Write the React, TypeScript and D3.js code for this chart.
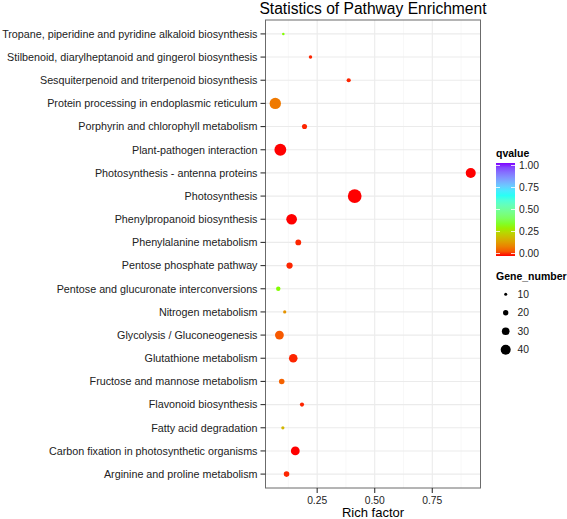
import React from "react";
import * as d3 from "d3";

const pathways = [
  "Tropane, piperidine and pyridine alkaloid biosynthesis",
  "Stilbenoid, diarylheptanoid and gingerol biosynthesis",
  "Sesquiterpenoid and triterpenoid biosynthesis",
  "Protein processing in endoplasmic reticulum",
  "Porphyrin and chlorophyll metabolism",
  "Plant-pathogen interaction",
  "Photosynthesis - antenna proteins",
  "Photosynthesis",
  "Phenylpropanoid biosynthesis",
  "Phenylalanine metabolism",
  "Pentose phosphate pathway",
  "Pentose and glucuronate interconversions",
  "Nitrogen metabolism",
  "Glycolysis / Gluconeogenesis",
  "Glutathione metabolism",
  "Fructose and mannose metabolism",
  "Flavonoid biosynthesis",
  "Fatty acid degradation",
  "Carbon fixation in photosynthetic organisms",
  "Arginine and proline metabolism",
];
const richFactor = [0.103, 0.221, 0.387, 0.068, 0.195, 0.09, 0.917, 0.413, 0.139, 0.168, 0.13, 0.081, 0.109, 0.086, 0.146, 0.096, 0.184, 0.101, 0.155, 0.117];
const geneNumber = [8, 12, 15, 46, 19, 48, 40, 56, 43, 22, 24, 16, 11, 35, 34, 21, 15, 11, 35, 21];
const qvalue = [0.33, 0.01, 0.01, 0.09, 0.01, 0.0, 0.0, 0.0, 0.0, 0.01, 0.01, 0.33, 0.13, 0.05, 0.01, 0.06, 0.01, 0.19, 0.0, 0.01];

const xTicks = [0.25, 0.5, 0.75];
const xMinor = [0.125, 0.375, 0.625, 0.875];
const qTicks = [0, 0.25, 0.5, 0.75, 1];
const sizeBreaks = [10, 20, 30, 40];
const rainbow4 = ["#FF0000", "#80FF00", "#00FFFF", "#8000FF"];

const W = 567, H = 519;
const panel = { left: 265.5, right: 480.5, top: 20, bottom: 488 };
const FONT = "Liberation Sans, Arial, Helvetica, sans-serif";

export default function App() {
  const ext = d3.extent(richFactor) as [number, number];
  const pad = (ext[1] - ext[0]) * 0.05;
  const x = d3.scaleLinear().domain([ext[0] - pad, ext[1] + pad]).range([panel.left, panel.right]);
  const y = d3.scalePoint<string>().domain(pathways).range([panel.top, panel.bottom]).padding(0.6);
  const r = d3.scaleLinear().domain([10, 40]).range([1.5, 5]);
  const color = d3
    .scaleLinear<string>()
    .domain([0, 1 / 3, 2 / 3, 1])
    .range(rainbow4)
    .interpolate(d3.interpolateLab);

  const cb = { x: 496, w: 19, top: 163, bottom: 256 };
  const qy = d3.scaleLinear().domain([0, 1]).range([253.5, 165.5]);
  const stops = d3.range(0, 1.0001, 0.05);
  const legY = d3.scalePoint<number>().domain(sizeBreaks).range([294.3, 349.7]);

  return (
    <svg width={W} height={H} style={{ position: "absolute", left: 0, top: 0, background: "#fff" }} fontFamily={FONT}>
      <defs>
        <linearGradient id="qgrad" x1="0" y1="1" x2="0" y2="0">
          {stops.map((s) => (
            <stop key={s} offset={s} stopColor={color(s)} />
          ))}
        </linearGradient>
      </defs>
      <rect width={W} height={H} fill="#fff" />
      <text x={(panel.left + panel.right) / 2} y={14} textAnchor="middle" fontSize={15.6} fill="#000">
        Statistics of Pathway Enrichment
      </text>
      {/* grid */}
      {xMinor.map((t) => (
        <line key={"m" + t} x1={x(t)} x2={x(t)} y1={panel.top} y2={panel.bottom} stroke="#f3f3f3" strokeWidth={0.6} />
      ))}
      {xTicks.map((t) => (
        <line key={"g" + t} x1={x(t)} x2={x(t)} y1={panel.top} y2={panel.bottom} stroke="#ebebeb" strokeWidth={1.1} />
      ))}
      {pathways.map((p) => (
        <line key={"h" + p} x1={panel.left} x2={panel.right} y1={y(p)} y2={y(p)} stroke="#ebebeb" strokeWidth={1.1} />
      ))}
      {/* points */}
      {pathways.map((p, i) => (
        <circle key={"c" + p} cx={x(richFactor[i])} cy={y(p)} r={r(geneNumber[i])} fill={color(qvalue[i])} />
      ))}
      <rect x={panel.left} y={panel.top} width={panel.right - panel.left} height={panel.bottom - panel.top} fill="none" stroke="#6b6b6b" strokeWidth={1} />
      {/* y axis */}
      {pathways.map((p) => (
        <g key={"y" + p}>
          <line x1={panel.left - 5} x2={panel.left} y1={y(p)} y2={y(p)} stroke="#333" strokeWidth={1.1} />
          <text x={panel.left - 8} y={y(p)} dy="0.35em" textAnchor="end" fontSize={10.75} fill="#222">
            {p}
          </text>
        </g>
      ))}
      {/* x axis */}
      {xTicks.map((t) => (
        <g key={"x" + t}>
          <line x1={x(t)} x2={x(t)} y1={panel.bottom} y2={panel.bottom + 5} stroke="#333" strokeWidth={1.1} />
          <text x={x(t)} y={panel.bottom + 16} textAnchor="middle" fontSize={10.3} fill="#222">
            {t.toFixed(2)}
          </text>
        </g>
      ))}
      <text x={(panel.left + panel.right) / 2} y={517} textAnchor="middle" fontSize={13} fill="#000">
        Rich factor
      </text>
      {/* color legend */}
      <text x={cb.x} y={157} fontSize={10.5} fontWeight="bold" fill="#000">
        qvalue
      </text>
      <rect x={cb.x} y={cb.top} width={cb.w} height={cb.bottom - cb.top} fill="url(#qgrad)" />
      {qTicks.map((t) => (
        <g key={"q" + t}>
          <line x1={cb.x} x2={cb.x + 4} y1={qy(t)} y2={qy(t)} stroke="#fff" strokeWidth={0.8} />
          <line x1={cb.x + cb.w - 4} x2={cb.x + cb.w} y1={qy(t)} y2={qy(t)} stroke="#fff" strokeWidth={0.8} />
          <text x={cb.x + 23} y={qy(t)} dy="0.35em" fontSize={10.3} fill="#222">
            {t.toFixed(2)}
          </text>
        </g>
      ))}
      {/* size legend */}
      <text x={cb.x} y={280} fontSize={10.5} fontWeight="bold" fill="#000">
        Gene_number
      </text>
      {sizeBreaks.map((s) => (
        <g key={"s" + s}>
          <circle cx={505.7} cy={legY(s)} r={r(s)} fill="#000" />
          <text x={517.5} y={legY(s)} dy="0.35em" fontSize={10.3} fill="#222">
            {s}
          </text>
        </g>
      ))}
    </svg>
  );
}
